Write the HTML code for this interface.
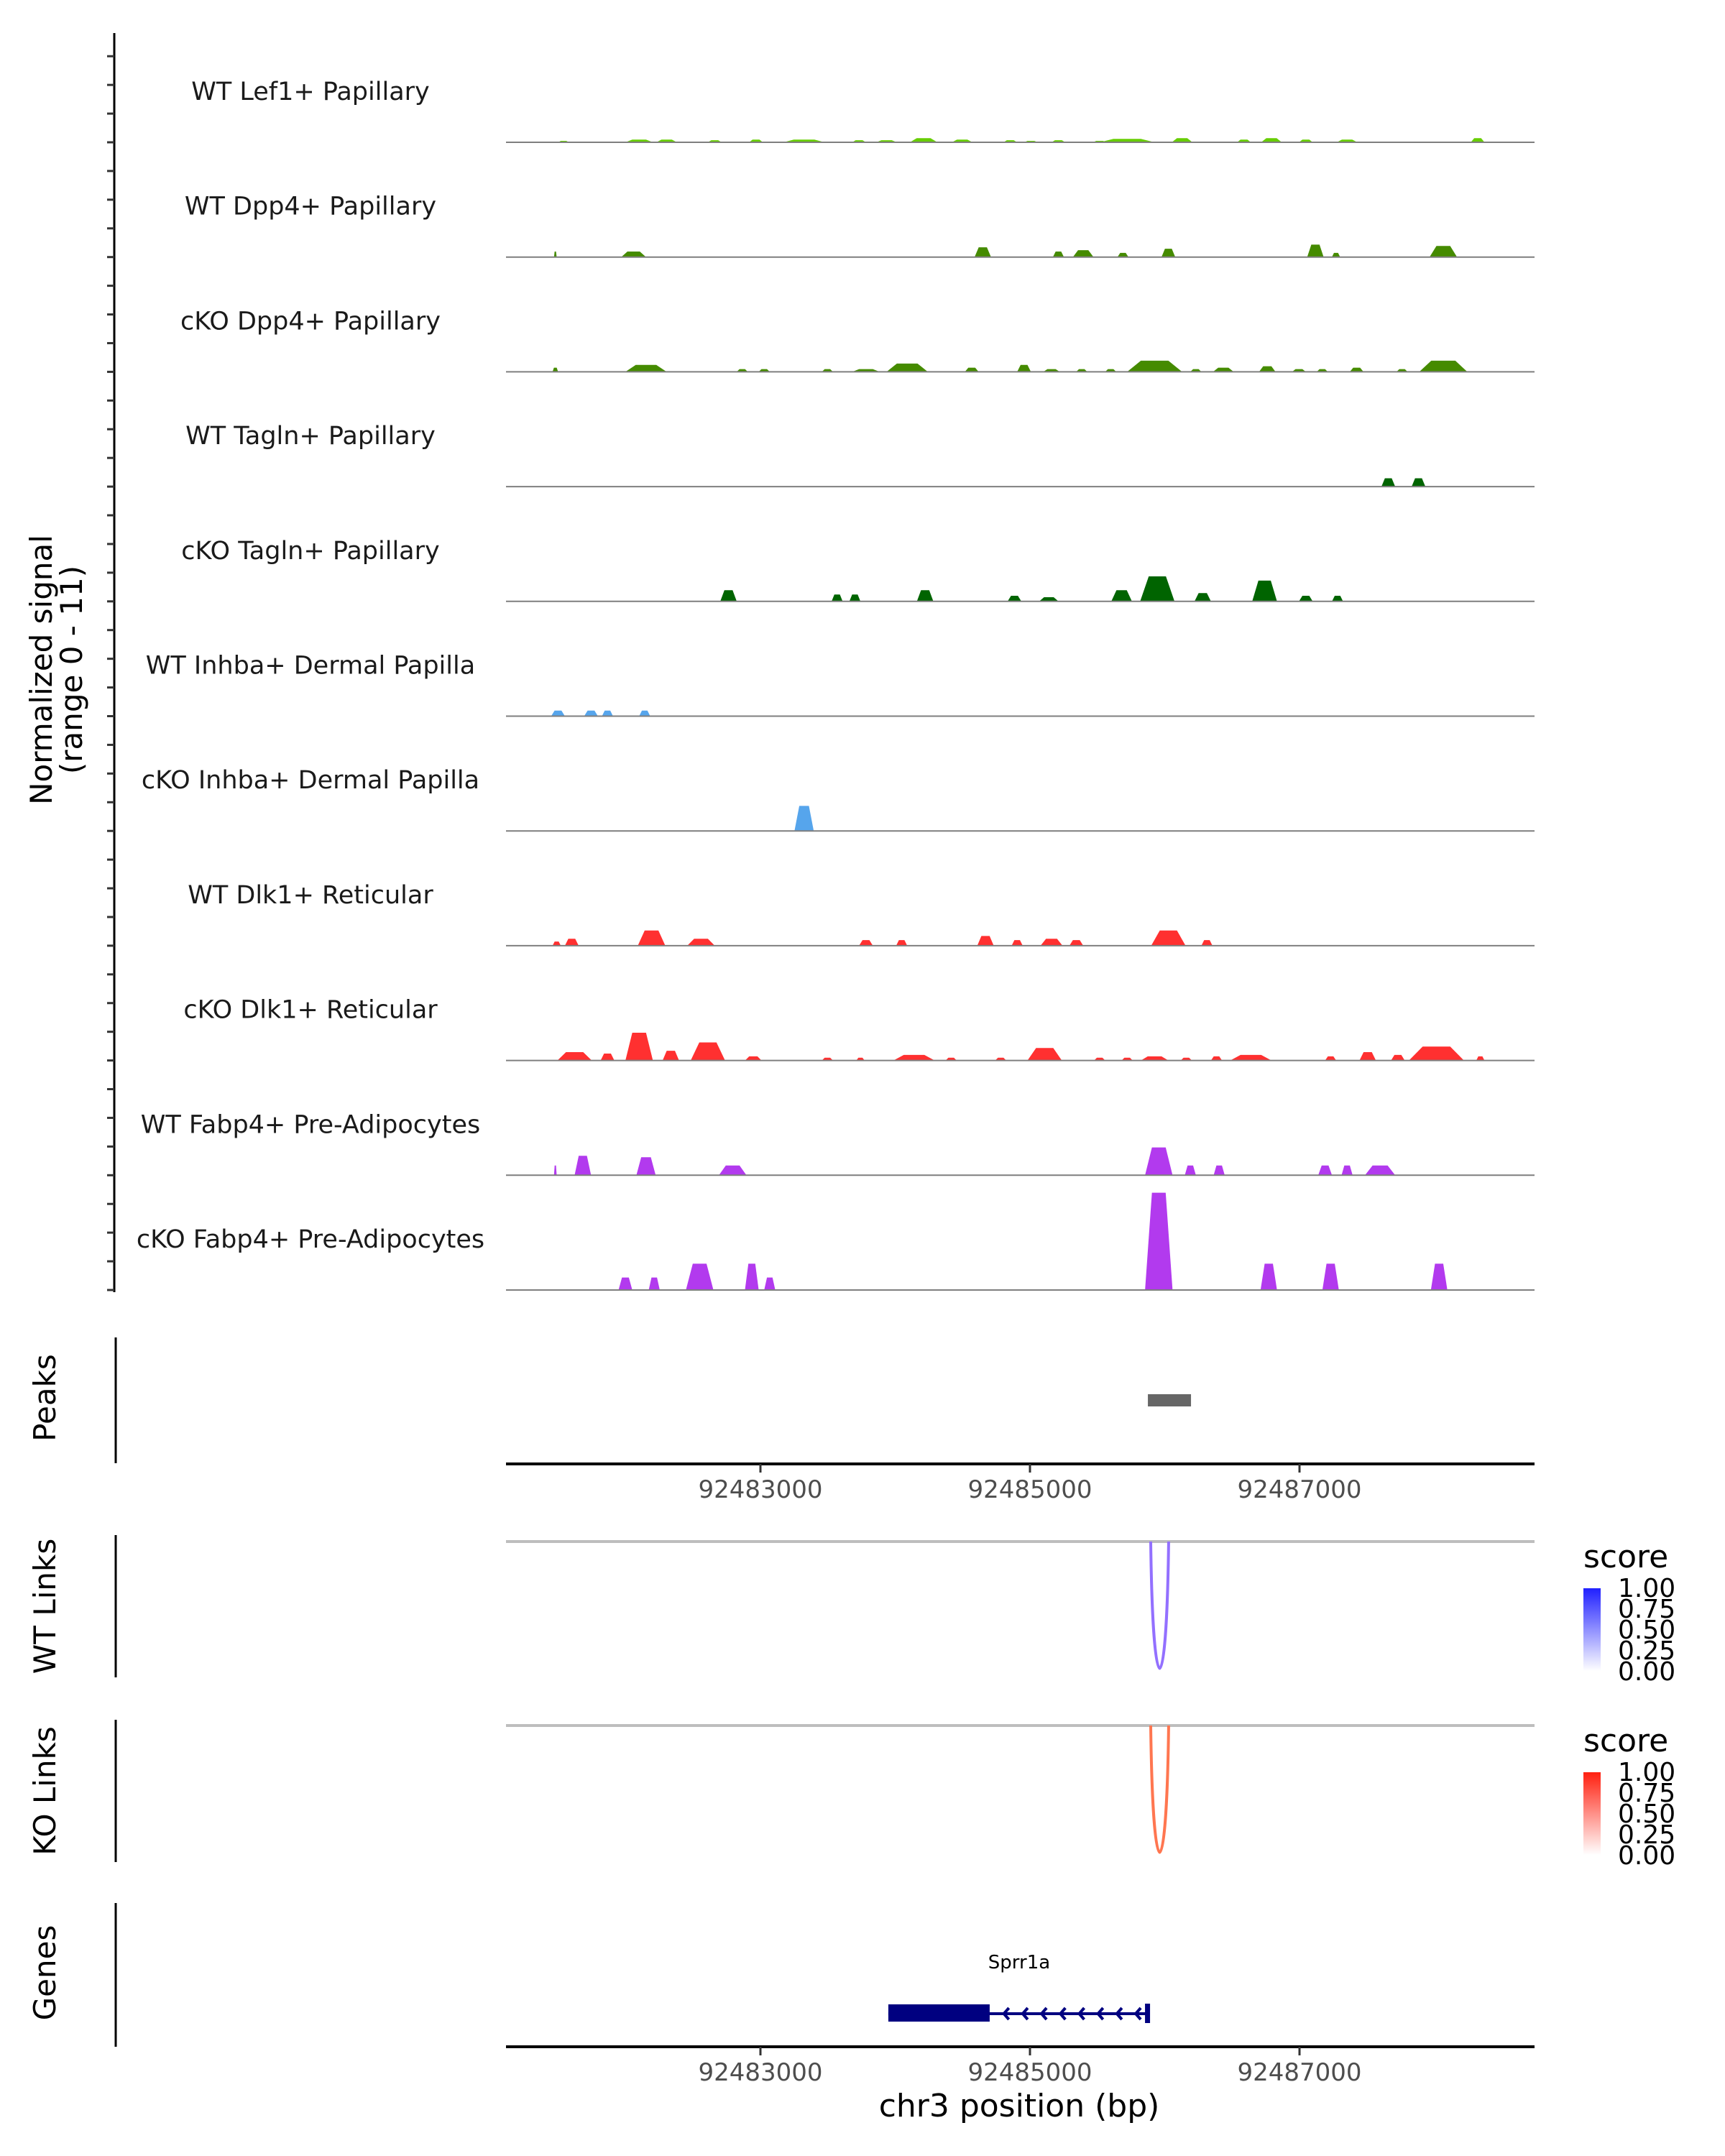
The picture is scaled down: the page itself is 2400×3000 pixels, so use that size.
<!DOCTYPE html>
<html><head><meta charset="utf-8">
<style>
html,body{margin:0;padding:0;background:#fff;}
svg{display:block;font-family:"DejaVu Sans","Liberation Sans",sans-serif;}
</style></head>
<body>
<svg id="chart" width="2400" height="3000" viewBox="0 0 2400 3000" xmlns="http://www.w3.org/2000/svg">
<g id="root"></g>
</svg>
<script>
// ---------- data ----------
const regionStart = 92481000;           // bp offsets are relative to this
const axisTicks = [92483000, 92485000, 92487000];
const tickLabels = ["92483000", "92485000", "92487000"];
const trackNames = ["WT Lef1+ Papillary","WT Dpp4+ Papillary","cKO Dpp4+ Papillary","WT Tagln+ Papillary","cKO Tagln+ Papillary","WT Inhba+ Dermal Papilla","cKO Inhba+ Dermal Papilla","WT Dlk1+ Reticular","cKO Dlk1+ Reticular","WT Fabp4+ Pre-Adipocytes","cKO Fabp4+ Pre-Adipocytes"];
const trackColors = ["#66CD00","#458B00","#458B00","#006400","#006400","#56A5EC","#56A5EC","#FF3030","#FF3030","#B23AEE","#B23AEE"];
// peaks: [offset bp, width bp, height (signal units)]
const sigLef1 = [[539,82,0.14],[1100,204,0.27],[1304,153,0.27],[1661,102,0.2],[1967,102,0.27],[2324,306,0.27],[2732,102,0.2],[2936,153,0.2],[3211,204,0.41],[3497,153,0.27],[3854,102,0.2],[4007,102,0.14],[4211,102,0.2],[4517,102,0.14],[4721,408,0.34],[5129,153,0.41],[5588,102,0.27],[5792,153,0.41],[6047,102,0.27],[6353,153,0.27],[7322,102,0.41]];
const sigWtDpp4 = [[478,20,0.55],[1059,184,0.55],[3650,122,0.96],[4211,82,0.55],[4395,153,0.68],[4690,82,0.41],[5027,102,0.82],[6118,122,1.23],[6271,61,0.41],[7067,204,1.1]];
const sigKoDpp4 = [[478,41,0.41],[1151,306,0.68],[1865,82,0.27],[2028,82,0.27],[2497,82,0.27],[2783,204,0.27],[3089,306,0.82],[3568,102,0.41],[3956,102,0.68],[4160,122,0.27],[4384,82,0.27],[4599,82,0.27],[4925,408,1.1],[5231,82,0.27],[5435,153,0.41],[5761,122,0.55],[5996,102,0.27],[6169,82,0.27],[6424,102,0.41],[6761,82,0.27],[7067,357,1.1]];
const sigWtTagln = [[6659,102,0.82],[6883,102,0.82]];
const sigKoTagln = [[1763,122,1.1],[2569,82,0.68],[2701,82,0.68],[3222,122,1.1],[3885,102,0.55],[4140,143,0.41],[4680,153,1.1],[4945,255,2.47],[5282,122,0.82],[5741,184,2.05],[6047,102,0.55],[6282,82,0.55]];
const sigWtInhba = [[498,102,0.55],[743,102,0.55],[865,82,0.55],[1141,82,0.55]];
const sigKoInhba = [[2324,143,2.47]];
const sigWtDlk1 = [[488,61,0.41],[600,102,0.68],[1192,204,1.5],[1559,204,0.68],[2783,102,0.55],[3048,82,0.55],[3670,122,0.96],[3905,82,0.55],[4160,163,0.68],[4344,102,0.55],[5027,255,1.5],[5313,82,0.55]];
const sigKoDlk1 = [[621,255,0.82],[865,102,0.68],[1100,204,2.74],[1335,122,0.96],[1610,255,1.78],[1947,122,0.41],[2497,82,0.27],[2742,61,0.27],[3140,306,0.55],[3415,82,0.27],[3783,82,0.27],[4109,255,1.23],[4517,82,0.27],[4721,82,0.27],[4925,204,0.41],[5160,82,0.27],[5384,82,0.41],[5639,306,0.55],[6231,82,0.41],[6506,122,0.82],[6730,102,0.55],[7016,408,1.37],[7342,61,0.41]];
const sigWtFabp4 = [[478,20,0.96],[682,122,1.92],[1151,143,1.78],[1794,204,0.96],[4956,204,2.74],[5190,82,0.96],[5404,82,0.96],[6190,102,0.96],[6353,82,0.96],[6598,224,0.96]];
const sigKoFabp4 = [[998,102,1.23],[1212,82,1.23],[1549,204,2.6],[1936,102,2.6],[2069,82,1.23],[4956,204,9.6],[5772,122,2.6],[6231,122,2.6],[7036,122,2.6]];
const trackSignals = [sigLef1,sigWtDpp4,sigKoDpp4,sigWtTagln,sigKoTagln,sigWtInhba,sigKoInhba,sigWtDlk1,sigKoDlk1,sigWtFabp4,sigKoFabp4];
const peakRegions = [[4875,5195]];
const wtLinks = [[4896,5029,0.55]];
const koLinks = [[4896,5029,0.55]];
const geneName = "Sprr1a";
const geneThick = [2949,3701];
const geneSpan = [2949,4875];
const legendLabels = ["1.00","0.75","0.50","0.25","0.00"];

// ---------- scales ----------
const NS="http://www.w3.org/2000/svg";
const root=document.getElementById('root');
const X0=704, PXBP=0.1875, OFF0=112;
function xs(off){return X0+(off-OFF0)*PXBP;}
function xg(bp){return xs(bp-regionStart);}
const BASE0=198, STEP=159.7, UNIT=14.1;
function mk(tag,attrs,parent){const e=document.createElementNS(NS,tag);for(const k in attrs)e.setAttribute(k,attrs[k]);(parent||root).appendChild(e);return e;}

// signal axis
const ax=mk('line',{x1:159,y1:46,x2:159,y2:1798,stroke:'#000','stroke-width':3});


for(let k=-3;k<=40;k++){const y=BASE0+k*STEP/4;const t=mk('line',{x1:149,y1:y,x2:159,y2:y,stroke:'#333','stroke-width':3});

}
const yt=mk('text',{x:0,y:0,'font-size':42,'text-anchor':'middle',transform:'translate(72,932) rotate(-90)'});


mk('tspan',{x:0,dy:0},yt).textContent='Normalized signal';
mk('tspan',{x:0,dy:42},yt).textContent='(range 0 - 11)';

trackNames.forEach((nm,i)=>{
  const base=BASE0+i*STEP;
  const g=mk('g',{});
  
  
  const lb=mk('text',{x:432,y:base-59,'font-size':35,'text-anchor':'middle',fill:'#1a1a1a'},g);
  
  
  lb.textContent=nm;
  trackSignals[i].forEach(p=>{
    const c=xs(p[0]),w=p[1]*PXBP,h=p[2]*UNIT;
    const pts=[[c-w/2,base],[c-w/4,base-h],[c+w/4,base-h],[c+w/2,base]].map(q=>q.join(',')).join(' ');
    const pg=mk('polygon',{points:pts,fill:trackColors[i]},g);
    
    
  });
  const bl=mk('line',{x1:704,y1:base,x2:2135,y2:base,stroke:'#7f7f7f','stroke-width':2},g);
  
  
});

function sideLabel(txt,y,name,y1,y2){
  const t=mk('text',{x:0,y:0,'font-size':42,'text-anchor':'middle',transform:`translate(77,${y}) rotate(-90)`});
  
  
  t.textContent=txt;
  const l=mk('line',{x1:161,y1:y1,x2:161,y2:y2,stroke:'#000','stroke-width':3});
  
  
}
sideLabel('Peaks',1945,'peaks-label',1861,2036);
sideLabel('WT Links',2235,'wt-links-label',2136,2334);
sideLabel('KO Links',2492,'ko-links-label',2393,2591);
sideLabel('Genes',2745,'genes-label',2648,2848);

peakRegions.forEach(r=>{const e=mk('rect',{x:xs(r[0]),y:1940,width:xs(r[1])-xs(r[0]),height:17,fill:'#666'});

});

function xAxis(y,name){
  const l=mk('line',{x1:704,y1:y,x2:2135,y2:y,stroke:'#000','stroke-width':4});
  
  
  axisTicks.forEach((b,i)=>{
    const t=mk('line',{x1:xg(b),y1:y,x2:xg(b),y2:y+12,stroke:'#333','stroke-width':3});
    
    
    const tx=mk('text',{x:xg(b),y:y+47,'font-size':34,'text-anchor':'middle',fill:'#4d4d4d'});
    
    
    tx.textContent=tickLabels[i];
  });
}
xAxis(2037,'peaks-x-axis');
xAxis(2848,'genes-x-axis');

function links(arr,top,bottom,color,name){
  const gl=mk('line',{x1:704,y1:top,x2:2135,y2:top,stroke:'#bebebe','stroke-width':4});
  
  
  arr.forEach(a=>{
    const x1=xs(a[0]),x2=xs(a[1]),xm=(x1+x2)/2;
    const p=mk('path',{d:`M${x1},${top} C${x1+3},${bottom+(bottom-top)*0.3} ${x2-3},${bottom+(bottom-top)*0.3} ${x2},${top}`,fill:'none',stroke:color,'stroke-width':4});
    
    
  });
}
links(wtLinks,2145,2326,'#9370FF','wt-links');
links(koLinks,2401,2582,'#FF7650','ko-links');

function legend(y0,c,name){
  const g=mk('g',{});
  
  
  const t=mk('text',{x:2203,y:y0,'font-size':44},g);t.textContent='score';
  const id='grad-'+name;
  const defs=mk('defs',{},g);const lg=mk('linearGradient',{id:id,x1:0,y1:1,x2:0,y2:0},defs);
  mk('stop',{offset:0,'stop-color':'#ffffff'},lg);mk('stop',{offset:1,'stop-color':c},lg);
  mk('rect',{x:2203,y:y0+29,width:24,height:115,fill:`url(#${id})`},g);
  legendLabels.forEach((s,i)=>{const tx=mk('text',{x:2251,y:y0+41+i*29,'font-size':36},g);tx.textContent=s;});
}
legend(2181,'#2020FF','wt-score-legend');
legend(2437,'#FF2010','ko-score-legend');

// gene
const gn=mk('text',{x:1418,y:2739,'font-size':26,'text-anchor':'middle'});


gn.textContent=geneName;
const gline=mk('line',{x1:xs(geneSpan[0]),y1:2802,x2:xs(geneSpan[1]),y2:2802,stroke:'#000080','stroke-width':4});


const gx=mk('rect',{x:xs(geneThick[0]),y:2789,width:xs(geneThick[1])-xs(geneThick[0]),height:24,fill:'#000080'});


const gend=mk('rect',{x:xs(geneSpan[1])-4,y:2788,width:7,height:27,fill:'#000080'});


for(let x=xs(geneSpan[1])-17;x>xs(geneThick[1]);x-=26.2){
  const ch=mk('polyline',{points:`${x+7},${2794} ${x},${2802} ${x+7},${2810}`,fill:'none',stroke:'#000080','stroke-width':4});
  
  
}
const xt=mk('text',{x:1418,y:2945,'font-size':44,'text-anchor':'middle'});


xt.textContent='chr3 position (bp)';
</script>
</body></html>
